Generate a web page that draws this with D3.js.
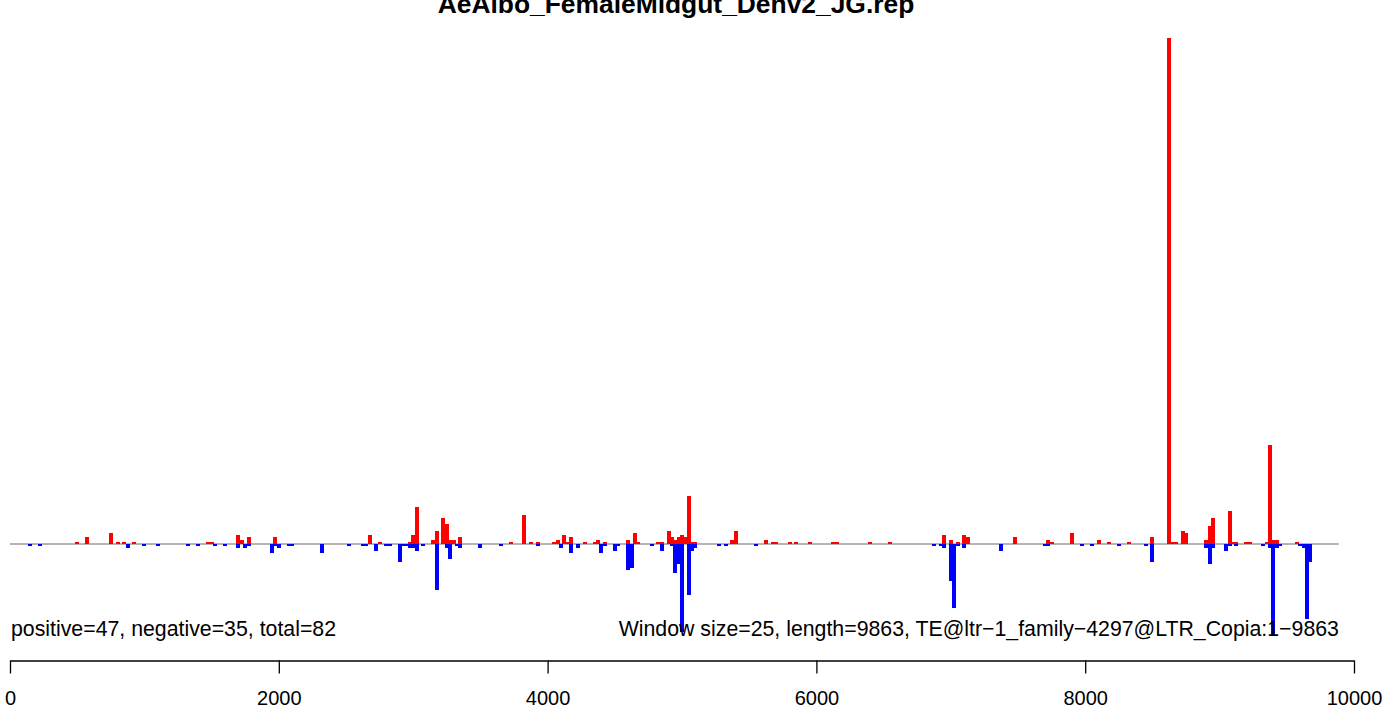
<!DOCTYPE html>
<html>
<head>
<meta charset="utf-8">
<script src="https://d3js.org/d3.v7.min.js"></script>
<style>
  html, body { margin: 0; padding: 0; background: #fff; }
  svg { display: block; font-family: "Liberation Sans", Arial, Helvetica, sans-serif; }
</style>
</head>
<body>
<svg id="chart" width="1388" height="711"></svg>
<script>
// ---- data ----
const titleText = "AeAlbo_FemaleMidgut_Denv2_JG.rep";
const leftNote = "positive=47, negative=35, total=82";
const rightNote = "Window size=25, length=9863, TE@ltr\u22121_family\u22124297@LTR_Copia:1\u22129863";
const windowSize = 25;
const seqLength = 9863;
const xTicks = [0, 2000, 4000, 6000, 8000, 10000];

const posPositions = [500, 575, 750, 800, 850, 925, 1475, 1500, 1700, 1725, 1775, 1975, 2675, 2750, 2975, 3000, 3025, 3150, 3175, 3225, 3250, 3275, 3300, 3350, 3725, 3825, 3875, 3925, 4050, 4075, 4125, 4150, 4175, 4275, 4350, 4375, 4425, 4600, 4650, 4675, 4825, 4850, 4900, 4925, 4950, 4975, 5000, 5025, 5050, 5075, 5100, 5375, 5400, 5625, 5675, 5700, 5800, 5850, 5950, 6125, 6150, 6400, 6550, 6950, 7000, 7050, 7100, 7125, 7475, 7725, 7750, 7900, 8100, 8175, 8325, 8500, 8625, 8650, 8675, 8725, 8750, 8900, 8925, 8950, 9075, 9100, 9125, 9200, 9225, 9350, 9375, 9400, 9425, 9575];
const posValues = [1, 3, 5, 1, 1, 1, 1, 1, 4, 2, 3, 3, 4, 1, 1, 4, 17, 2, 6, 12, 9, 2, 2, 3, 1, 13, 1, 1, 1, 2, 4, 1, 3, 1, 1, 2, 1, 2, 5, 1, 1, 1, 6, 3, 2, 3, 4, 3, 22, 1, 1, 2, 6, 2, 1, 1, 1, 1, 1, 1, 1, 1, 1, 4, 2, 1, 4, 3, 3, 2, 1, 5, 2, 1, 1, 3, 230, 1, 1, 6, 5, 2, 8, 12, 15, 1, 1, 1, 1, 1, 45, 2, 2, 1];

const negPositions = [150, 225, 875, 1000, 1100, 1325, 1400, 1525, 1600, 1700, 1750, 1775, 1950, 1975, 2000, 2075, 2100, 2325, 2525, 2625, 2650, 2725, 2800, 2825, 2900, 2925, 2950, 2975, 3000, 3025, 3075, 3175, 3250, 3275, 3325, 3350, 3500, 3650, 3925, 4100, 4175, 4225, 4400, 4425, 4500, 4525, 4600, 4625, 4775, 4850, 4925, 4950, 4975, 5000, 5050, 5075, 5100, 5275, 5325, 5550, 6875, 6925, 6950, 7000, 7025, 7050, 7100, 7375, 7700, 7725, 7975, 8050, 8250, 8450, 8500, 8900, 8925, 8950, 9050, 9075, 9125, 9325, 9375, 9400, 9425, 9450, 9600, 9625, 9650, 9675];
const negValues = [1, 1, 2, 1, 1, 1, 1, 1, 1, 2, 2, 1, 4, 1, 2, 1, 1, 4, 1, 1, 1, 3, 1, 1, 8, 1, 1, 2, 2, 3, 1, 21, 2, 7, 1, 2, 2, 1, 1, 2, 4, 2, 4, 1, 3, 1, 12, 11, 1, 3, 1, 13, 9, 40, 23, 3, 2, 1, 1, 1, 1, 1, 2, 17, 29, 1, 2, 3, 1, 1, 1, 1, 1, 1, 8, 2, 9, 2, 3, 1, 1, 1, 2, 42, 2, 1, 1, 2, 34, 8];

// ---- layout ----
const svg = d3.select("#chart");
const x = d3.scaleLinear().domain([0, 10000]).range([10, 1354]);
const y = d3.scaleLinear().domain([0, 230]).range([544, 38]);
const barW = x(windowSize * 1.2) - x(0);

const posData = posPositions.map((p, i) => ({ p, v: posValues[i] }));
const negData = negPositions.map((p, i) => ({ p, v: negValues[i] }));

// title
svg.append("text")
  .attr("x", 676).attr("y", 13)
  .attr("text-anchor", "middle")
  .attr("font-size", 26.4).attr("font-weight", "bold")
  .attr("fill", "#000")
  .text(titleText);

// baseline
svg.append("line")
  .attr("x1", x(0)).attr("x2", x(seqLength + windowSize))
  .attr("y1", y(0)).attr("y2", y(0))
  .attr("stroke", "#6e6e6e").attr("stroke-width", 1.2);

// positive bars
svg.append("g").selectAll("rect").data(posData).join("rect")
  .attr("x", d => x(d.p) - barW / 2)
  .attr("width", barW)
  .attr("y", d => y(d.v))
  .attr("height", d => y(0) - y(d.v))
  .attr("fill", "#ff0000")
  .attr("shape-rendering", "crispEdges");

// negative bars
svg.append("g").selectAll("rect").data(negData).join("rect")
  .attr("x", d => x(d.p) - barW / 2)
  .attr("width", barW)
  .attr("y", y(0))
  .attr("height", d => y(0) - y(d.v))
  .attr("fill", "#0000ff")
  .attr("shape-rendering", "crispEdges");

// notes
svg.append("text")
  .attr("x", 11).attr("y", 636)
  .attr("font-size", 21.3).attr("fill", "#000")
  .text(leftNote);
svg.append("text")
  .attr("x", x(seqLength + windowSize)).attr("y", 636)
  .attr("text-anchor", "end")
  .attr("font-size", 21.3).attr("fill", "#000")
  .text(rightNote);

// x axis
const axis = d3.axisBottom(x).tickValues(xTicks).tickSize(13).tickSizeOuter(0).tickPadding(17).tickFormat(d3.format("d"));
const ag = svg.append("g").attr("transform", "translate(0,660.5)").call(axis);
ag.select(".domain").attr("stroke", "#000").attr("stroke-width", 1.3);
ag.selectAll(".tick line").attr("stroke", "#000").attr("stroke-width", 1.3);
ag.selectAll(".tick text").attr("font-size", 20).attr("fill", "#000")
  .attr("font-family", "Liberation Sans, Arial, sans-serif");
</script>
</body>
</html>
